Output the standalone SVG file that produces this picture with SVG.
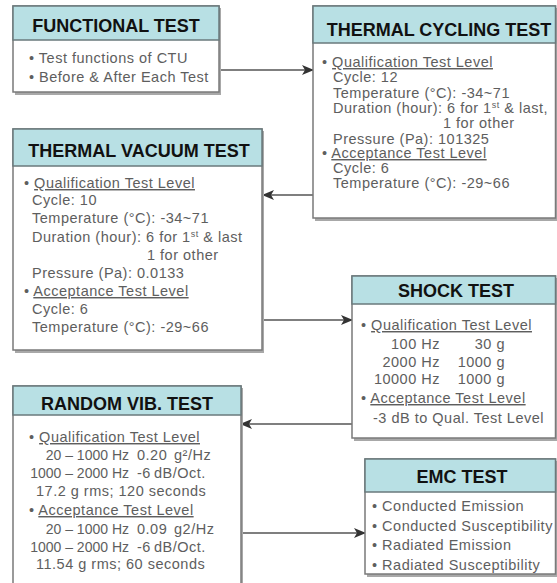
<svg xmlns="http://www.w3.org/2000/svg" width="557" height="583" viewBox="0 0 557 583">
<style>
.shadow{fill:#a8a8a8;}
.body{fill:#ffffff;stroke:#7a7a7a;stroke-width:1.5;}
.head{fill:#b8e0e4;stroke:#6a7a7c;stroke-width:1.5;}
.ht{font-family:"Liberation Sans",Arial,sans-serif;font-weight:bold;font-size:18px;fill:#111;text-anchor:middle;}
.t{font-family:"Liberation Sans",Arial,sans-serif;font-size:14.5px;letter-spacing:0.5px;fill:#5e5e5e;}
.n{letter-spacing:0;font-size:14px;}
.u{text-decoration:underline;}
.e{text-anchor:end;}
.conn{stroke:#555;stroke-width:1.4;fill:none;marker-end:url(#arr);}
</style>
<defs>
<marker id="arr" viewBox="0 0 12 10" refX="11" refY="5" markerWidth="12" markerHeight="10" markerUnits="userSpaceOnUse" orient="auto">
<path d="M0,0 L12,5 L0,10 L3,5 z" fill="#333"/>
</marker>
</defs>
<rect width="557" height="583" fill="#ffffff"/>

<g id="connectors">
<line class="conn" x1="219" y1="70" x2="313" y2="70"/>
<line class="conn" x1="313" y1="195" x2="263" y2="195"/>
<line class="conn" x1="262" y1="320" x2="352" y2="320"/>
<line class="conn" x1="352" y1="424" x2="241" y2="424"/>
<line class="conn" x1="241" y1="533" x2="365" y2="533"/>
</g>

<g id="functional">
<rect class="shadow" x="15" y="8" width="206" height="87"/>
<rect class="body" x="13" y="6" width="206" height="86"/>
<rect class="head" x="13" y="6" width="206" height="34"/>
<text class="ht" x="116" y="32">FUNCTIONAL TEST</text>
<text class="t" x="29" y="63">• Test functions of CTU</text>
<text class="t" x="29" y="82">• Before &amp; After Each Test</text>
</g>

<g id="thermal-cycling">
<rect class="shadow" x="315" y="8" width="242" height="213"/>
<rect class="body" x="313" y="6" width="242.5" height="212"/>
<rect class="head" x="313" y="6" width="242.5" height="37"/>
<text class="ht" x="439" y="36">THERMAL CYCLING TEST</text>
<text class="t" x="322" y="67">• <tspan class="u">Qualification Test Level</tspan></text>
<text class="t" x="333" y="82">Cycle: 12</text>
<text class="t" x="333" y="98">Temperature (°C): -34~71</text>
<text class="t" x="333" y="113">Duration (hour): 6 for 1<tspan font-size="9" dy="-5">st</tspan><tspan dy="5"> &amp; last,</tspan></text>
<text class="t" x="443" y="128">1 for other</text>
<text class="t" x="333" y="144">Pressure (Pa): 101325</text>
<text class="t" x="322" y="158">• <tspan class="u">Acceptance Test Level</tspan></text>
<text class="t" x="333" y="173">Cycle: 6</text>
<text class="t" x="333" y="188">Temperature (°C): -29~66</text>
</g>

<g id="thermal-vacuum">
<rect class="shadow" x="15" y="131" width="249" height="222"/>
<rect class="body" x="13" y="129" width="249" height="221"/>
<rect class="head" x="13" y="129" width="249" height="37"/>
<text class="ht" x="139" y="157">THERMAL VACUUM TEST</text>
<text class="t" x="24" y="188">• <tspan class="u">Qualification Test Level</tspan></text>
<text class="t" x="32" y="205">Cycle: 10</text>
<text class="t" x="32" y="223">Temperature (°C): -34~71</text>
<text class="t" x="32" y="242">Duration (hour): 6 for 1<tspan font-size="9" dy="-5">st</tspan><tspan dy="5"> &amp; last</tspan></text>
<text class="t" x="147" y="260">1 for other</text>
<text class="t" x="32" y="278">Pressure (Pa): 0.0133</text>
<text class="t" x="24" y="296">• <tspan class="u">Acceptance Test Level</tspan></text>
<text class="t" x="32" y="314">Cycle: 6</text>
<text class="t" x="32" y="332">Temperature (°C): -29~66</text>
</g>

<g id="shock">
<rect class="shadow" x="354" y="278" width="203" height="163"/>
<rect class="body" x="352" y="276" width="203.5" height="162"/>
<rect class="head" x="352" y="276" width="203.5" height="28"/>
<text class="ht" x="456" y="297">SHOCK TEST</text>
<text class="t" x="361" y="330">• <tspan class="u">Qualification Test Level</tspan></text>
<text class="t e" x="440" y="349">100 Hz</text>
<text class="t e" x="505" y="349">30 g</text>
<text class="t e" x="440" y="367">2000 Hz</text>
<text class="t e" x="505" y="367">1000 g</text>
<text class="t e" x="440" y="384">10000 Hz</text>
<text class="t e" x="505" y="384">1000 g</text>
<text class="t" x="361" y="403">• <tspan class="u">Acceptance Test Level</tspan></text>
<text class="t" x="373" y="423">-3 dB to Qual. Test Level</text>
</g>

<g id="random-vib">
<rect class="shadow" x="15" y="388" width="228" height="200"/>
<rect class="body" x="13" y="386" width="228" height="200"/>
<rect class="head" x="13" y="386" width="228" height="29"/>
<text class="ht" x="127" y="410">RANDOM VIB. TEST</text>
<text class="t" x="29" y="442">• <tspan class="u">Qualification Test Level</tspan></text>
<text class="t n e" x="129" y="460">20 – 1000 Hz</text>
<text class="t" x="137" y="460">0.20 <tspan x="174">g²/Hz</tspan></text>
<text class="t n e" x="129" y="478">1000 – 2000 Hz</text>
<text class="t" x="137" y="478">-6 <tspan x="154">dB/Oct.</tspan></text>
<text class="t" x="36" y="496">17.2 g rms; 120 seconds</text>
<text class="t" x="29" y="515">• <tspan class="u">Acceptance Test Level</tspan></text>
<text class="t n e" x="129" y="534">20 – 1000 Hz</text>
<text class="t" x="137" y="534">0.09 <tspan x="174">g2/Hz</tspan></text>
<text class="t n e" x="129" y="552">1000 – 2000 Hz</text>
<text class="t" x="137" y="552">-6 <tspan x="154">dB/Oct.</tspan></text>
<text class="t" x="36" y="569">11.54 g rms; 60 seconds</text>
</g>

<g id="emc">
<rect class="shadow" x="367" y="461" width="190" height="116"/>
<rect class="body" x="365" y="459" width="190.5" height="115"/>
<rect class="head" x="365" y="459" width="190.5" height="33"/>
<text class="ht" x="462" y="483">EMC TEST</text>
<text class="t" x="372" y="511">• Conducted Emission</text>
<text class="t" x="372" y="531">• Conducted Susceptibility</text>
<text class="t" x="372" y="550">• Radiated Emission</text>
<text class="t" x="372" y="570">• Radiated Susceptibility</text>
</g>
</svg>
